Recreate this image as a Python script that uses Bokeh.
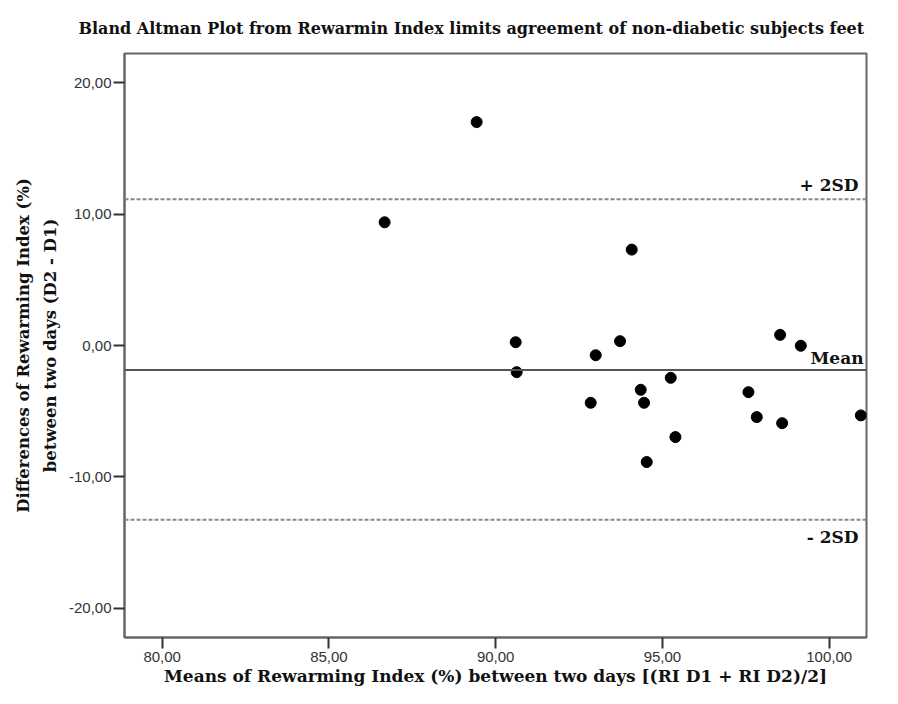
from bokeh.plotting import figure
from bokeh.models import Range1d, FixedTicker, Span, Label
from bokeh.embed import file_html
from bokeh.resources import INLINE

# ---- data ----
x_means = [89.43, 86.67, 94.08, 90.60, 90.63, 93.00, 93.73, 94.35, 94.45, 92.85,
           94.53, 95.25, 95.39, 97.58, 97.83, 98.59, 98.53, 99.15, 100.95]
y_diffs = [17.01, 9.38, 7.30, 0.25, -2.03, -0.74, 0.33, -3.37, -4.36, -4.36,
           -8.87, -2.46, -6.97, -3.55, -5.45, -5.91, 0.81, -0.02, -5.32]
mean_diff = -1.87
upper_limit = 11.13
lower_limit = -13.26

x_ticks = [80, 85, 90, 95, 100]
x_tick_labels = ["80,00", "85,00", "90,00", "95,00", "100,00"]
y_ticks = [-20, -10, 0, 10, 20]
y_tick_labels = ["-20,00", "-10,00", "0,00", "10,00", "20,00"]

title_text = "Bland Altman Plot from Rewarmin Index limits agreement of non-diabetic subjects feet"
x_label = "Means of Rewarming Index (%) between two days [(RI D1 + RI D2)/2]"
y_label = "Differences of Rewarming Index (%)\nbetween two days (D2 - D1)"

SERIF = "DejaVu Serif"
SANS = "Liberation Sans"
X0, X1 = 78.87, 101.12
Y0, Y1 = -22.23, 22.23

p = figure(width=882, height=688, output_backend="svg", toolbar_location=None,
           x_range=Range1d(X0, X1), y_range=Range1d(Y0, Y1),
           min_border_left=124, min_border_right=16, min_border_top=53, min_border_bottom=51)

p.title.text = title_text
p.title.align = "left"
p.title.offset = -46
p.title.text_font = SERIF
p.title.text_font_style = "bold"
p.title.text_font_size = "16px"
p.title.text_color = "#111111"
p.title.standoff = 32

p.xgrid.visible = False
p.ygrid.visible = False
p.background_fill_color = "white"
p.border_fill_color = "white"
p.outline_line_color = "#666666"
p.outline_line_width = 2

for ax in (p.xaxis, p.yaxis):
    ax.axis_line_color = "#666666"
    ax.axis_line_width = 2
    ax.major_tick_line_color = "#333333"
    ax.major_tick_line_width = 2
    ax.major_tick_out = 11
    ax.major_tick_in = 0
    ax.minor_tick_line_color = None
    ax.major_label_text_font = SANS
    ax.major_label_text_font_size = "15px"
    ax.major_label_text_color = "#333333"
    ax.axis_label_text_font = SERIF
    ax.axis_label_text_font_style = "bold"
    ax.axis_label_text_color = "#111111"

p.xaxis.axis_label_text_font_size = "17px"
p.yaxis.axis_label_text_font_size = "16.5px"
p.xaxis.ticker = FixedTicker(ticks=x_ticks)
p.xaxis.major_label_overrides = dict(zip(x_ticks, x_tick_labels))
p.yaxis.ticker = FixedTicker(ticks=y_ticks)
p.yaxis.major_label_overrides = dict(zip(y_ticks, y_tick_labels))
p.xaxis.major_label_standoff = 3
p.yaxis.major_label_standoff = 2
p.xaxis.axis_label = x_label
p.yaxis.axis_label = y_label
p.xaxis.axis_label_standoff = 1
p.yaxis.axis_label_standoff = 6
p.yaxis.axis_label_text_line_height = 1.4

p.add_layout(Span(location=mean_diff, dimension="width", line_color="#555555", line_width=2))
p.add_layout(Span(location=upper_limit, dimension="width", line_color="#888888",
                  line_width=2, line_dash="4 2"))
p.add_layout(Span(location=lower_limit, dimension="width", line_color="#888888",
                  line_width=2, line_dash="4 2"))

p.scatter(x_means, y_diffs, size=11, color="black", marker="circle")

for txt, yv, xo, yo in [("+ 2SD", upper_limit, -8, 14),
                        ("Mean", mean_diff, -3, 12),
                        ("- 2SD", lower_limit, -8, -17)]:
    p.add_layout(Label(x=X1, y=yv, text=txt, x_offset=xo, y_offset=yo,
                       text_align="right", text_baseline="alphabetic",
                       text_font=SERIF, text_font_style="bold",
                       text_font_size="17px", text_color="#111111"))

open("out.html", "w").write(file_html(p, INLINE))
